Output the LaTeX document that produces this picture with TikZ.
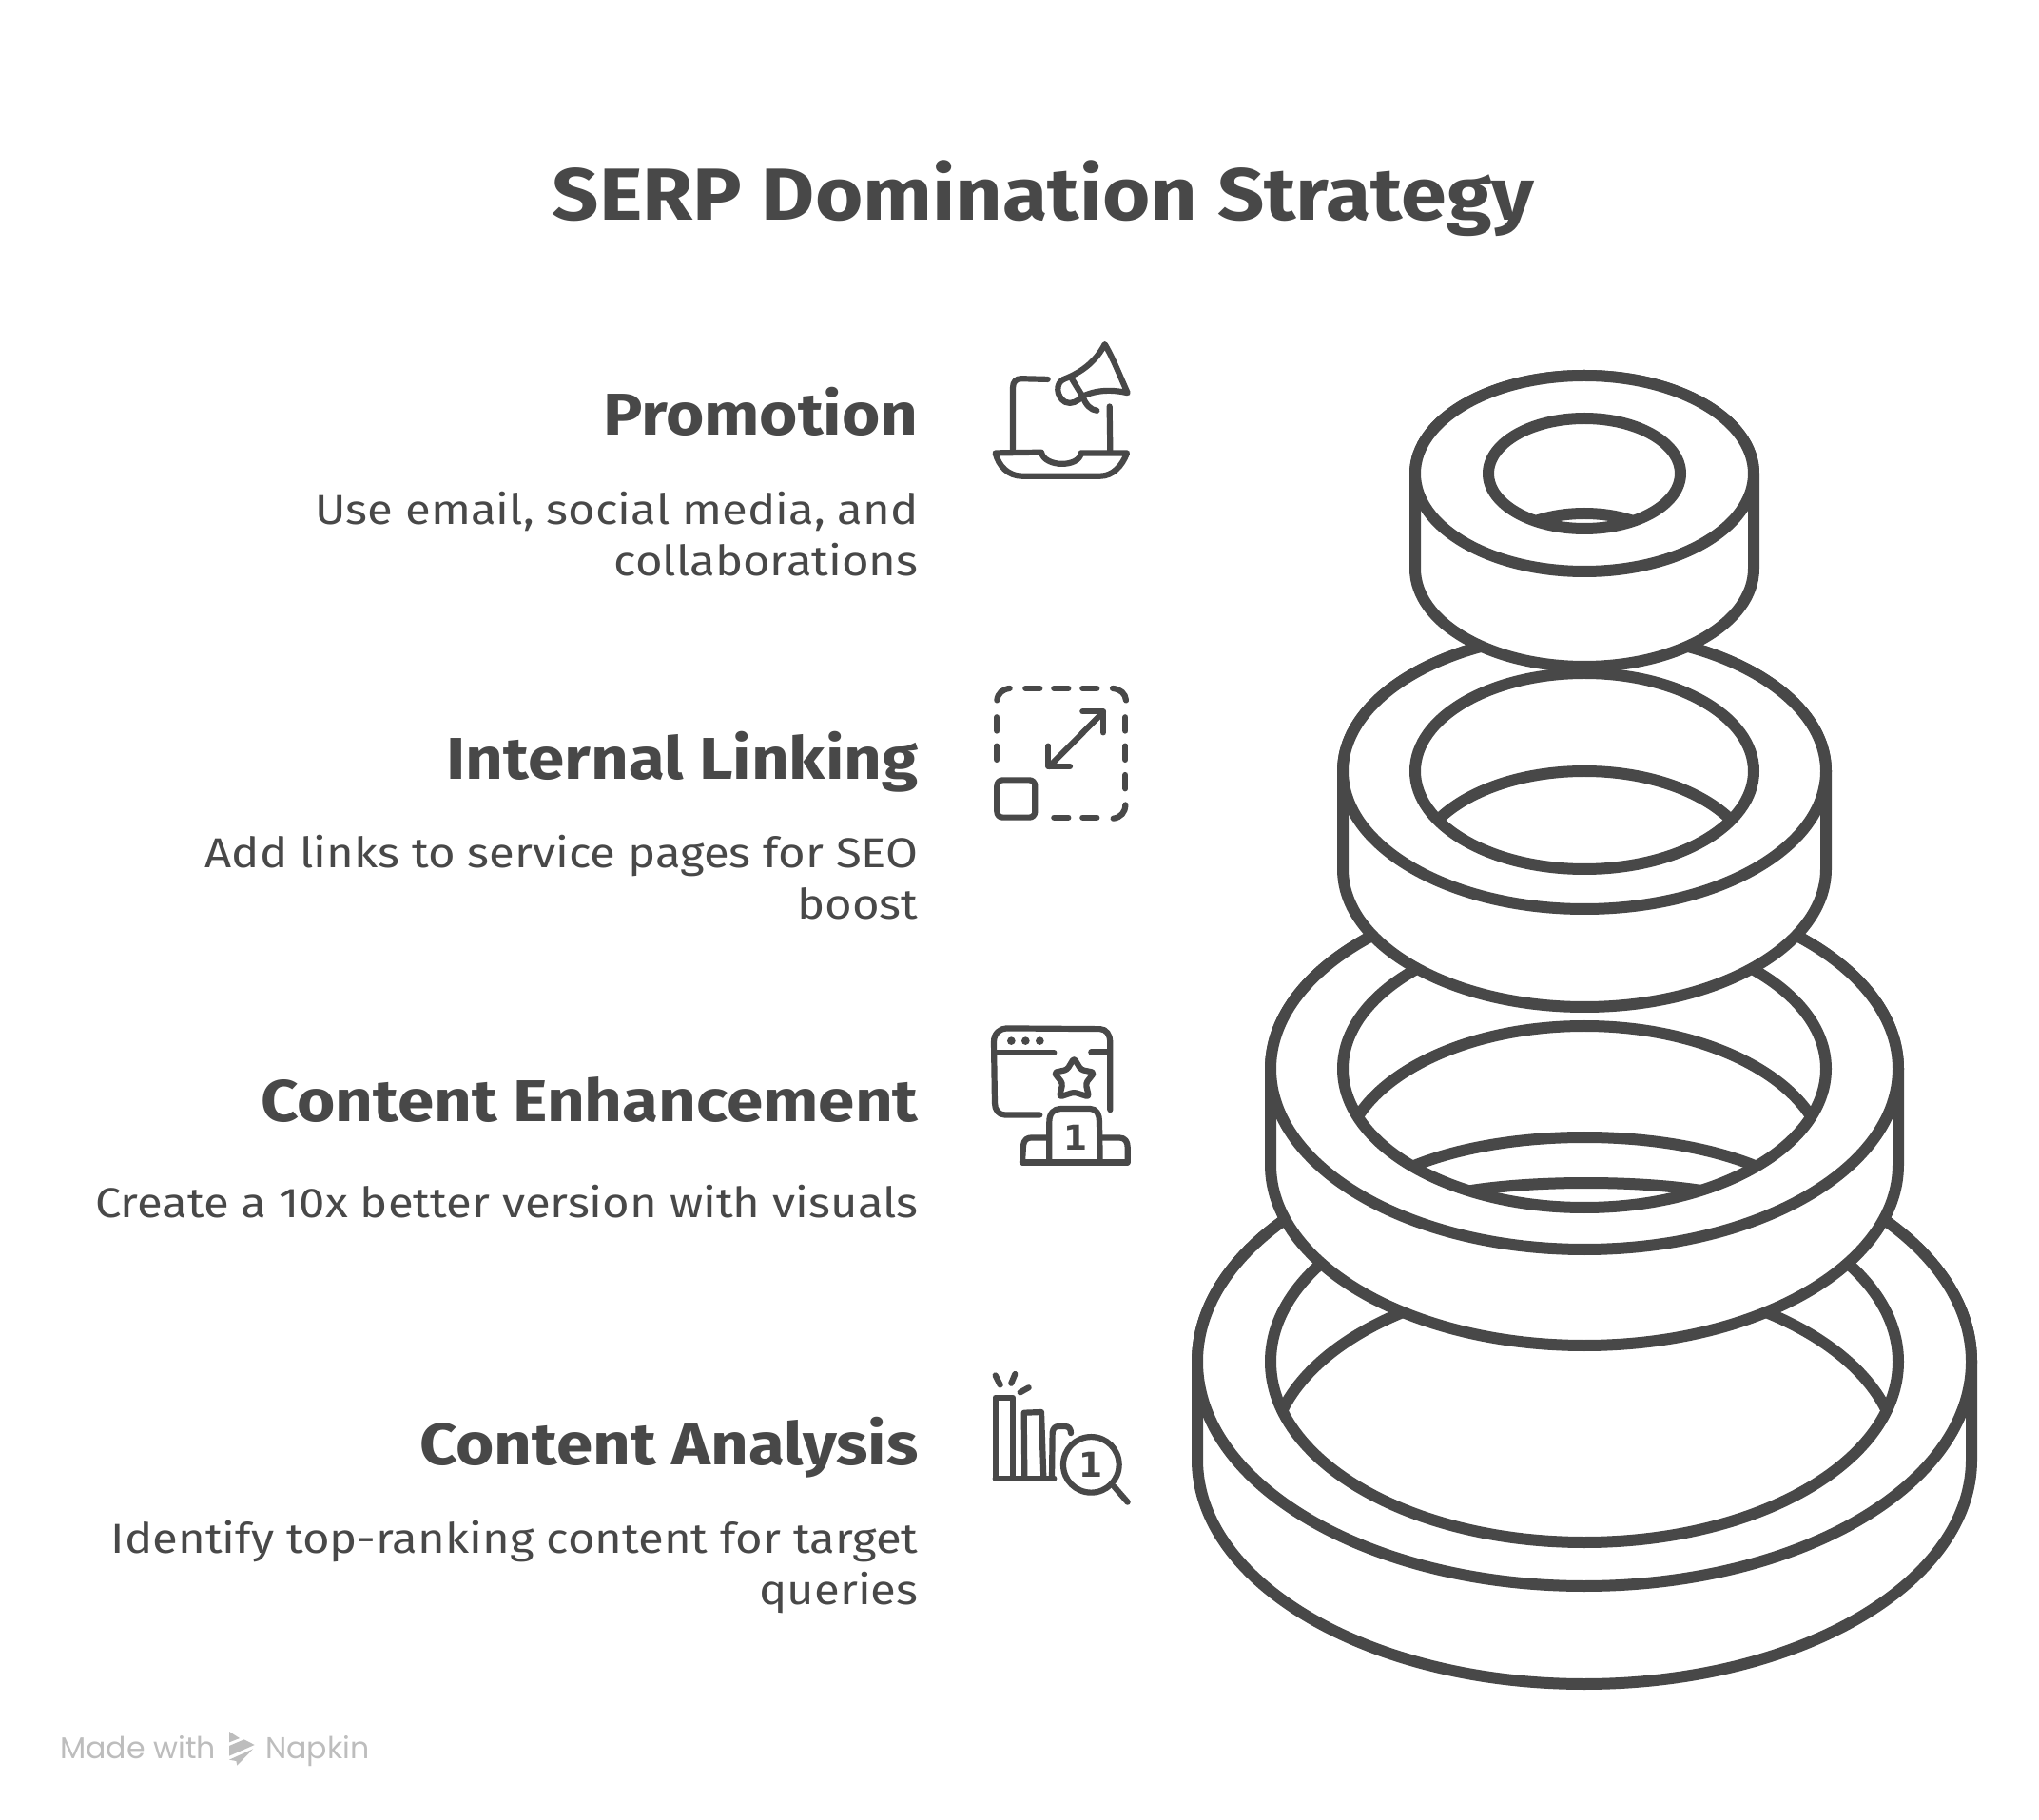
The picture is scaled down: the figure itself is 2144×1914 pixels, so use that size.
\documentclass[tikz,border=0pt]{standalone}
\usepackage{fontspec}
\usepackage{tikz}
\setmainfont[FakeStretch=1.115]{Fira Sans}
\newfontfamily\footfont{Poppins}
\newfontfamily\rankfont{DejaVu Sans}
\definecolor{inkgrey}{HTML}{484848}
\definecolor{footgrey}{HTML}{BDBDBD}
\tikzset{
	titlelabel/.style={anchor=base,inner sep=0pt,text=inkgrey,font=\bfseries\fontsize{38.7}{38.7}\selectfont},
	headlabel/.style={anchor=base east,inner sep=0pt,text=inkgrey,font=\bfseries\fontsize{31}{31}\selectfont},
	desclabel/.style={anchor=base east,inner sep=0pt,text=inkgrey,align=right,font=\fontsize{22}{27}\selectfont},
	footlabel/.style={anchor=base west,inner sep=0pt,text=footgrey,font=\footfont\fontsize{15.8}{15.8}\selectfont},
	ranklabel/.style={inner sep=0pt,text=inkgrey,font=\rankfont\bfseries\fontsize{18}{18}\selectfont},
	ringline/.style={draw=inkgrey,line width=6pt,line join=round,fill=white},
	holeline/.style={draw=inkgrey,line width=6pt},
	iconline/.style={draw=inkgrey,line width=3.1pt,line cap=round,line join=round},
	iconscope/.style={x=0.16667pt,y=-0.17857pt},
}
\begin{document}
\begin{tikzpicture}[x=0.5pt,y=-0.5pt]
	\useasboundingbox[fill=white] (0,0) rectangle (2144,1914);

	% texts
	\node[titlelabel] (title) at (1097,232) {SERP Domination Strategy};
	\node[headlabel] (promotionhead) at (966,458) {Promotion};
	\node[desclabel] (promotiontext) at (966,606) {Use email, social media, and\\collaborations};
	\node[headlabel] (linkinghead) at (966,820) {Internal Linking};
	\node[desclabel] (linkingtext) at (966,967) {Add links to service pages for SEO\\boost};
	\node[headlabel] (enhancehead) at (966,1180) {Content Enhancement};
	\node[desclabel] (enhancetext) at (966,1281) {Create a 10x better version with visuals};
	\node[headlabel] (analysishead) at (966,1540) {Content Analysis};
	\node[desclabel] (analysistext) at (966,1687) {Identify top-ranking content for target\\queries};
	\node[footlabel] (madewith) at (63,1849) {Made with};
	\node[footlabel] (napkin) at (279,1849) {Napkin};

	% logo
	\begin{scope}[shift={(40,1800)},x=0.16667pt,y=-0.16667pt]
		\fill[footgrey] (603,63) -- (636,84) -- (603,97) -- cycle;
		\fill[footgrey] (603,108) -- (650,88) -- (683,105) -- (603,140) -- cycle;
		\fill[footgrey] (603,152) -- (678,118) -- (628,170) -- (625,156) -- cycle;
	\end{scope}

	% bottom ring
	\draw[ringline] (1259,1432) arc[start angle=180,end angle=360,x radius=407,y radius=236] -- ++(0,103) arc[start angle=0,end angle=180,x radius=407,y radius=236] -- cycle;
	\draw[ringline] (1666,1432) ellipse [x radius=407,y radius=236];
	\fill[white] (1666,1432) ellipse [x radius=330,y radius=190];
	\begin{scope}
		\clip (1666,1432) ellipse [x radius=330,y radius=190];
		\draw[holeline] (1666,1535) ellipse [x radius=330,y radius=190];
	\end{scope}
	\draw[holeline] (1666,1432) ellipse [x radius=330,y radius=190];

	% third ring
	\draw[ringline] (1336,1124) arc[start angle=180,end angle=360,x radius=330,y radius=190] -- ++(0,101) arc[start angle=0,end angle=180,x radius=330,y radius=190] -- cycle;
	\draw[ringline] (1666,1124) ellipse [x radius=330,y radius=190];
	\fill[white] (1666,1124) ellipse [x radius=254,y radius=146];
	\begin{scope}
		\clip (1666,1124) ellipse [x radius=254,y radius=146];
		\draw[holeline] (1666,1225) ellipse [x radius=254,y radius=146];
		\draw[holeline] (1666,1299) ellipse [x radius=254,y radius=103];
		\draw[holeline] (1668,1274) ellipse [x radius=178,y radius=30];
	\end{scope}
	\draw[holeline] (1666,1124) ellipse [x radius=254,y radius=146];

	% second ring
	\draw[ringline] (1412,811) arc[start angle=180,end angle=360,x radius=254,y radius=145] -- ++(0,103) arc[start angle=0,end angle=180,x radius=254,y radius=145] -- cycle;
	\draw[ringline] (1666,811) ellipse [x radius=254,y radius=145];
	\fill[white] (1666,811) ellipse [x radius=178,y radius=103];
	\begin{scope}
		\clip (1666,811) ellipse [x radius=178,y radius=103];
		\draw[holeline] (1666,914) ellipse [x radius=178,y radius=103];
	\end{scope}
	\draw[holeline] (1666,811) ellipse [x radius=178,y radius=103];

	% top ring
	\draw[ringline] (1488,498) arc[start angle=180,end angle=360,x radius=178,y radius=103] -- ++(0,100) arc[start angle=0,end angle=180,x radius=178,y radius=103] -- cycle;
	\draw[ringline] (1666,498) ellipse [x radius=178,y radius=103];
	\fill[white] (1666,498) ellipse [x radius=101,y radius=58];
	\begin{scope}
		\clip (1666,498) ellipse [x radius=101,y radius=58];
		\draw[holeline] (1666,598) ellipse [x radius=101,y radius=58];
	\end{scope}
	\draw[holeline] (1666,498) ellipse [x radius=101,y radius=58];

	% promotion icon
	\begin{scope}[shift={(1020,340)},iconscope]
		\draw[iconline] (135,375) -- (135,190) .. controls (135,172) and (145,163) .. (162,163) -- (245,165);
		\draw[iconline] (440,245) -- (442,375);
		\draw[iconline] (80,382) -- (225,380) .. controls (235,425) and (345,425) .. (350,382) -- (495,382) .. controls (480,420) and (450,450) .. (410,450) -- (165,450) .. controls (120,450) and (90,420) .. (80,382) -- cycle;
		\draw[iconline] (295,165) .. controls (350,145) and (395,115) .. (425,62) .. controls (450,100) and (475,160) .. (497,205) .. controls (450,195) and (400,195) .. (355,215) -- (322,165);
		\draw[iconline] (295,165) .. controls (270,175) and (270,215) .. (300,232) .. controls (320,240) and (340,230) .. (355,215) .. controls (365,240) and (380,255) .. (400,257);
	\end{scope}

	% linking icon
	\begin{scope}[shift={(1020,340)},iconscope]
		\draw[iconline] (85,1110) .. controls (88,1088) and (103,1078) .. (125,1075);
		\draw[iconline] (175,1075) -- (220,1075);
		\draw[iconline] (265,1075) -- (310,1075);
		\draw[iconline] (355,1075) -- (400,1075);
		\draw[iconline] (450,1075) .. controls (475,1078) and (490,1090) .. (492,1110);
		\draw[iconline] (490,1160) -- (490,1200);
		\draw[iconline] (490,1245) -- (490,1285);
		\draw[iconline] (490,1330) -- (490,1370);
		\draw[iconline] (490,1418) .. controls (490,1440) and (475,1455) .. (452,1458);
		\draw[iconline] (400,1455) -- (355,1455);
		\draw[iconline] (310,1455) -- (265,1455);
		\draw[iconline] (85,1160) -- (85,1200);
		\draw[iconline] (85,1245) -- (85,1285);
		\draw[iconline,rounded corners=3pt] (85,1345) -- (205,1345) -- (205,1455) -- (85,1455) -- cycle;
		\draw[iconline] (250,1305) -- (420,1145);
		\draw[iconline] (355,1143) -- (420,1143) -- (420,1205);
		\draw[iconline] (247,1245) -- (247,1305) -- (315,1305);
	\end{scope}

	% enhancement icon
	\begin{scope}[shift={(1020,1060)},iconscope]
		\draw[iconline] (220,315) -- (110,315) .. controls (90,315) and (78,300) .. (78,280) -- (75,100) .. controls (75,75) and (95,60) .. (115,60) -- (410,62) .. controls (430,62) and (442,80) .. (442,100) -- (442,300);
		\draw[iconline] (82,132) -- (265,132);
		\draw[iconline] (382,130) -- (440,130);
		\fill[inkgrey] (130,97) circle [x radius=13,y radius=12];
		\fill[inkgrey] (175,97) circle [x radius=13,y radius=12];
		\fill[inkgrey] (220,97) circle [x radius=13,y radius=12];
		\draw[iconline,rounded corners=1.5pt] (328,148) -- (350,182) -- (392,190) -- (365,222) -- (375,262) -- (328,248) -- (282,262) -- (292,222) -- (265,190) -- (306,182) -- cycle;
		\draw[iconline] (250,455) -- (250,335) .. controls (250,310) and (265,297) .. (285,297) -- (380,297) .. controls (400,297) and (408,315) .. (408,335) -- (410,455);
		\draw[iconline] (165,455) -- (497,455);
		\draw[iconline] (165,455) -- (168,405) .. controls (170,388) and (180,382) .. (195,382) -- (245,382);
		\draw[iconline] (412,382) -- (470,382) .. controls (490,382) and (497,395) .. (497,410) -- (497,455);
		\node[ranklabel] (podiumrank) at (333,382) {1};
	\end{scope}

	% analysis icon
	\begin{scope}[shift={(1020,1060)},iconscope]
		\draw[iconline] (80,1082) -- (95,1110);
		\draw[iconline] (142,1078) -- (130,1105);
		\draw[iconline] (158,1132) -- (185,1118);
		\draw[iconline] (80,1385) -- (80,1147) -- (135,1147) -- (135,1385);
		\draw[iconline] (80,1385) -- (265,1385);
		\draw[iconline] (172,1385) -- (170,1192) -- (225,1190) -- (232,1385);
		\draw[iconline] (258,1385) -- (260,1250) .. controls (262,1238) and (268,1232) .. (280,1232) -- (300,1232) .. controls (312,1232) and (318,1240) .. (318,1252);
		\draw[iconline] (382,1345) circle [x radius=88,y radius=82];
		\draw[iconline] (455,1410) -- (497,1455);
		\node[ranklabel] (lensrank) at (382,1345) {1};
	\end{scope}
\end{tikzpicture}
\end{document}
